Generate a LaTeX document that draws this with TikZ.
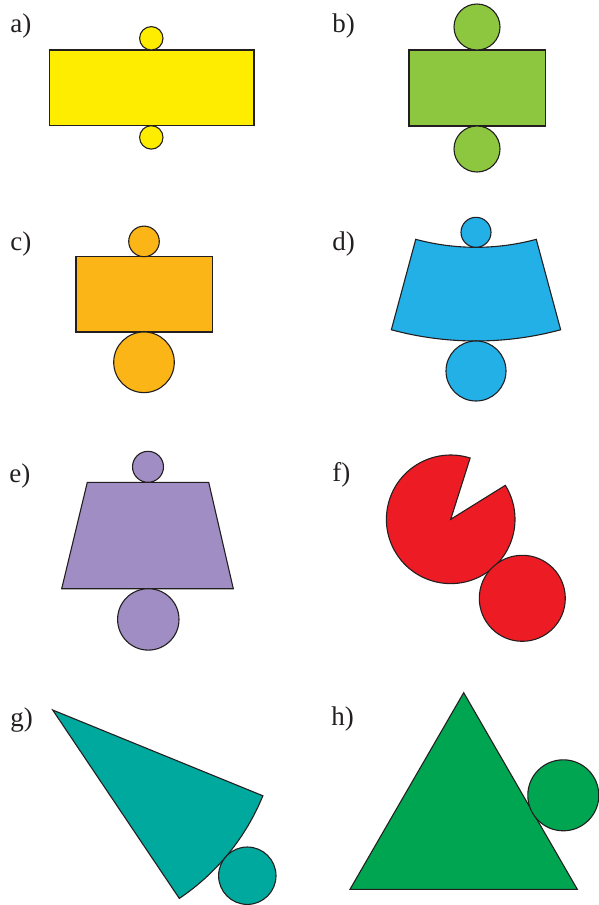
\documentclass[tikz,border=0pt]{standalone}
\usepackage{fontspec}
\setmainfont{Liberation Serif}
\usetikzlibrary{calc}
\definecolor{ink}{HTML}{231F20}
\definecolor{cyel}{HTML}{FFED00}
\definecolor{clime}{HTML}{8DC63F}
\definecolor{corange}{HTML}{FBB516}
\definecolor{cblue}{HTML}{22B0E6}
\definecolor{cpurple}{HTML}{A08DC3}
\definecolor{cred}{HTML}{ED1C24}
\definecolor{cteal}{HTML}{00A99D}
\definecolor{cgreen}{HTML}{00A551}
\tikzset{
  shp/.style={draw=ink, line width=0.55pt, line join=miter},
  lbl/.style={anchor=base west, inner sep=0pt, text=ink, font=\fontsize{13.5}{15}\selectfont}
}
\begin{document}
\begin{tikzpicture}[x=0.5pt, y=-0.5pt]
\useasboundingbox (0,0) rectangle (599,905);
% labels
\node[lbl] (la) at (10,32) {a)};
\node[lbl] (lb) at (332,32) {b)};
\node[lbl] (lc) at (10,250) {c)};
\node[lbl] (ld) at (332,250) {d)};
\node[lbl] (le) at (9,482) {e)};
\node[lbl] (lf) at (332,481) {f)};
\node[lbl] (lg) at (10,726) {g)};
\node[lbl] (lh) at (331,725) {h)};
% a)
\filldraw[shp, fill=cyel] (49.3,50) rectangle (254,125.7);
\filldraw[shp, fill=cyel] (151.3,38.3) circle (11.7);
\filldraw[shp, fill=cyel] (151.3,137.4) circle (11.7);
% b)
\filldraw[shp, fill=clime] (409,50) rectangle (545.7,126);
\filldraw[shp, fill=clime] (477,27) circle (23);
\filldraw[shp, fill=clime] (477,149) circle (23);
% c)
\filldraw[shp, fill=corange] (76,256.7) rectangle (212.3,332);
\filldraw[shp, fill=corange] (144,241.4) circle (15.3);
\filldraw[shp, fill=corange] (144,362.3) circle (30.3);
% d)
\coordinate (dc) at (476,16);
\filldraw[shp, fill=cblue] ([shift={(105.1:325)}]dc) arc[start angle=105.1, end angle=74.9, radius=325]
  -- ([shift={(74.9:231.3)}]dc) arc[start angle=74.9, end angle=105.1, radius=231.3] -- cycle;
\filldraw[shp, fill=cblue] (476,232.3) circle (15);
\filldraw[shp, fill=cblue] (476,371) circle (30);
% e)
\filldraw[shp, fill=cpurple] (87.3,482.3) -- (208.7,482.3) -- (233.3,588.7) -- (61.7,588.7) -- cycle;
\filldraw[shp, fill=cpurple] (148,466.8) circle (15.5);
\filldraw[shp, fill=cpurple] (148.3,619.4) circle (30.7);
% f)
\coordinate (fc) at (450.7,519.3);
\filldraw[shp, fill=cred] (fc) -- ([shift={(-31.9:64.3)}]fc) arc[start angle=-31.9, end angle=287.6, radius=64.3] -- cycle;
\filldraw[shp, fill=cred] (522.3,598.3) circle (43);
% g)
\coordinate (gc) at (52.7,710);
\filldraw[shp, fill=cteal] (gc) -- ([shift={(22.2:227)}]gc) arc[start angle=22.2, end angle=56.1, radius=227] -- cycle;
\filldraw[shp, fill=cteal] (247.3,875.7) circle (28.7);
% h)
\filldraw[shp, fill=cgreen] (463.7,692.7) -- (577.3,889.3) -- (350,889.3) -- cycle;
\filldraw[shp, fill=cgreen] (563.3,795.3) circle (35.5);
\end{tikzpicture}
\end{document}
